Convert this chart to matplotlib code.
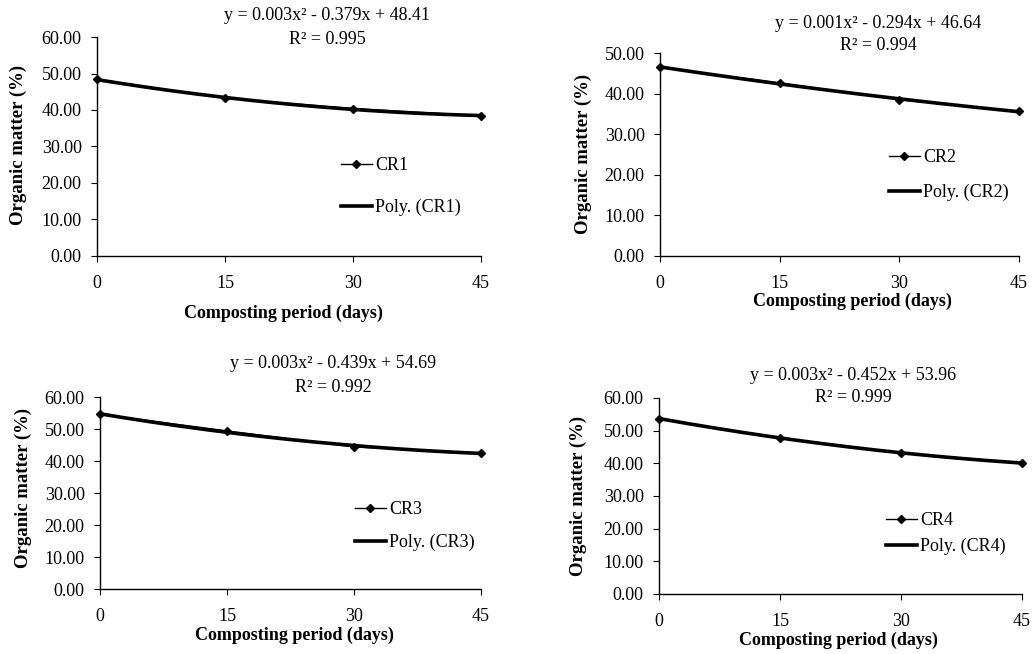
import numpy as np
import matplotlib
matplotlib.use("Agg")
import matplotlib.pyplot as plt

plt.rcParams['font.family'] = ['Liberation Serif', 'DejaVu Serif']

# === Data ===
days = [0, 15, 30, 45]
cr1 = [48.4, 43.2, 40.4, 38.4]
cr2 = [46.5, 42.6, 38.5, 35.6]
cr3 = [54.6, 49.4, 44.4, 42.5]
cr4 = [53.7, 47.8, 43.2, 40.1]

names = ["CR1", "CR2", "CR3", "CR4"]
equations = ["y = 0.003x² - 0.379x + 48.41",
             "y = 0.001x² - 0.294x + 46.64",
             "y = 0.003x² - 0.439x + 54.69",
             "y = 0.003x² - 0.452x + 53.96"]
r2_labels = ["R² = 0.995", "R² = 0.994", "R² = 0.992", "R² = 0.999"]
y_max = [60, 50, 60, 60]

W, H = 1032, 654
FS = 13

def fx(x):
    return x / W

def fy(y):
    return 1 - y / H

# === Layout (pixels) ===
# axes box: left, right, top, bottom
boxes = [(97, 481, 37, 256), (660, 1019, 53, 256),
         (100, 481, 397, 589), (659, 1022, 398, 594)]
eq_pos = [(327, 15, 39), (878, 24, 46), (333, 363, 387), (853, 375, 398)]
xlab_pos = [(283, 313), (852, 301), (294, 635), (838, 640)]
ylab_pos = [(18, 145), (583, 154), (23, 488), (578, 496)]
leg_pos = [(341, 157), (889, 149), (355, 501), (886, 512)]
leg_space = [1.38, 1.0, 0.88, 0.5]

fig = plt.figure(figsize=(W / 100, H / 100), dpi=100)

for i, vals in enumerate([cr1, cr2, cr3, cr4]):
    l, r, t, b = boxes[i]
    ax = fig.add_axes([fx(l), fy(b), (r - l) / W, (b - t) / H])

    # polynomial trendline (order 2) fitted from data
    coef = np.polyfit(days, vals, 2)
    xs = np.linspace(0, 45, 200)
    ax.plot(days, vals, color="black", lw=1.0, marker="D", ms=4.5,
            label=names[i], zorder=3, clip_on=False)
    ax.plot(xs, np.polyval(coef, xs), color="black", lw=2.6,
            label="Poly. (%s)" % names[i], zorder=2, clip_on=False)

    ax.set_xlim(0, 45)
    ax.set_ylim(0, y_max[i])
    ax.set_xticks(days)
    ax.set_yticks(np.arange(0, y_max[i] + 1, 10))
    ax.set_yticklabels(["%.2f" % v for v in np.arange(0, y_max[i] + 1, 10)])
    ax.spines["top"].set_visible(False)
    ax.spines["right"].set_visible(False)
    ax.spines["left"].set_linewidth(1.0)
    ax.spines["bottom"].set_linewidth(1.0)
    ax.tick_params(axis="x", direction="out", length=4.5, pad=9, labelsize=FS)
    ax.tick_params(axis="y", direction="out", length=4.5, pad=6.5, labelsize=FS)

    lx, ly = leg_pos[i]
    ax.legend(loc="upper left", bbox_to_anchor=(fx(lx), fy(ly)),
              bbox_transform=fig.transFigure, frameon=False, fontsize=FS,
              handlelength=1.7, handletextpad=0.2, borderpad=0,
              borderaxespad=0, labelspacing=leg_space[i])

    cx, y1, y2 = eq_pos[i]
    fig.text(fx(cx), fy(y1), equations[i], ha="center", va="center", fontsize=FS)
    fig.text(fx(cx), fy(y2), r2_labels[i], ha="center", va="center", fontsize=FS)

    x, y = xlab_pos[i]
    fig.text(fx(x), fy(y), "Composting period (days)", ha="center",
             va="center", fontsize=FS, fontweight="bold")
    x, y = ylab_pos[i]
    fig.text(fx(x), fy(y), "Organic matter (%)", ha="center", va="center",
             rotation=90, fontsize=FS + 0.5, fontweight="bold")

fig.savefig("out.png", dpi=100)
